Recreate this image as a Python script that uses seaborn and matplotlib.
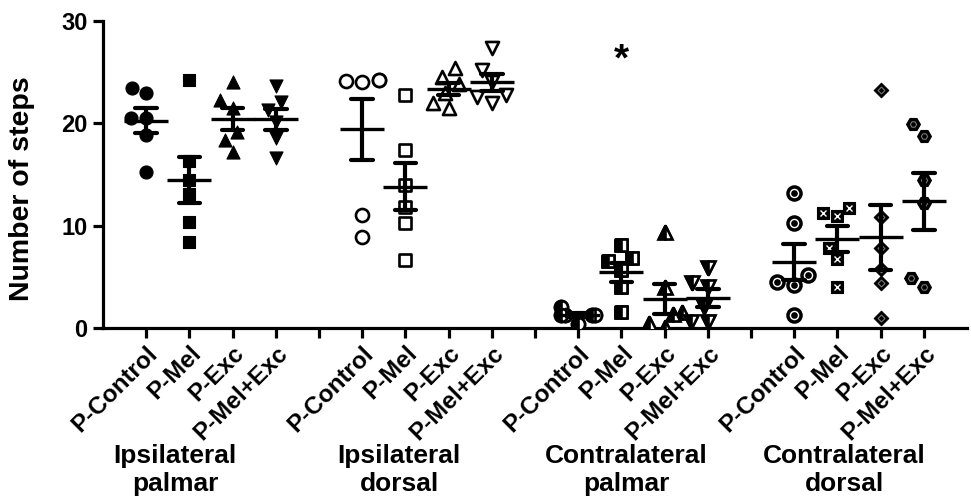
import numpy as np
import pandas as pd
import matplotlib
matplotlib.use("Agg")
import matplotlib.pyplot as plt
import matplotlib.transforms as mtrans
import seaborn as sns

# ---------------- data ----------------
treatments = ["P-Control", "P-Mel", "P-Exc", "P-Mel+Exc"]
regions = ["Ipsilateral\npalmar", "Ipsilateral\ndorsal",
           "Contralateral\npalmar", "Contralateral\ndorsal"]

ipsi_palmar_control = [23.0, 23.5, 20.5, 20.5, 18.9, 15.2]
ipsi_palmar_mel = [24.2, 16.3, 14.5, 13.1, 10.4, 8.4]
ipsi_palmar_exc = [24.0, 22.3, 21.5, 19.2, 18.4, 17.2]
ipsi_palmar_melexc = [23.6, 22.1, 21.3, 20.1, 18.6, 16.6]

ipsi_dorsal_control = [24.2, 24.0, 24.2, 24.1, 11.0, 8.9]
ipsi_dorsal_mel = [22.8, 17.4, 14.0, 11.8, 10.3, 6.6]
ipsi_dorsal_exc = [25.4, 24.5, 23.8, 23.0, 22.0, 21.5]
ipsi_dorsal_melexc = [27.4, 25.2, 24.0, 22.8, 22.6, 22.0]

contra_palmar_control = [2.1, 1.3, 1.3, 1.3, 1.3, 0.4]
contra_palmar_mel = [8.1, 6.8, 6.5, 5.7, 4.0, 1.6]
contra_palmar_exc = [9.4, 4.0, 1.6, 1.4, 0.5, 0.1]
contra_palmar_melexc = [5.9, 4.4, 4.0, 2.1, 0.6, 0.6]

contra_dorsal_control = [13.2, 10.3, 5.2, 4.5, 4.2, 1.3]
contra_dorsal_mel = [11.7, 11.2, 10.9, 7.8, 6.7, 4.0]
contra_dorsal_exc = [23.3, 10.8, 7.8, 5.8, 4.4, 1.0]
contra_dorsal_melexc = [19.9, 18.8, 14.5, 12.2, 4.9, 4.0]

all_values = [
    [ipsi_palmar_control, ipsi_palmar_mel, ipsi_palmar_exc, ipsi_palmar_melexc],
    [ipsi_dorsal_control, ipsi_dorsal_mel, ipsi_dorsal_exc, ipsi_dorsal_melexc],
    [contra_palmar_control, contra_palmar_mel, contra_palmar_exc, contra_palmar_melexc],
    [contra_dorsal_control, contra_dorsal_mel, contra_dorsal_exc, contra_dorsal_melexc],
]

y_label = "Number of steps"
y_ticks = [0, 10, 20, 30]
significance_mark = "*"
significance_group = (2, 1)      # Contralateral palmar, P-Mel
significance_y = 26.9

# ---------------- layout / style ----------------
group_label_x = [0.67, 5.86, 11.11, 16.16]

sns.set_style("ticks")
plt.rcParams["font.family"] = ["Liberation Sans", "DejaVu Sans"]
plt.rcParams["font.weight"] = "bold"
for k in ["text.color", "axes.labelcolor", "xtick.color", "ytick.color", "axes.edgecolor"]:
    plt.rcParams[k] = "black"

order = []
tick_labels = []
rows = []
for gi, reg in enumerate(regions):
    for ti, tr in enumerate(treatments):
        key = f"{gi}|{tr}"
        order.append(key)
        tick_labels.append(tr)
        for v in all_values[gi][ti]:
            rows.append({"key": key, "value": v})
    if gi < len(regions) - 1:
        order.append(f"gap{gi}")
        tick_labels.append("")
df = pd.DataFrame(rows)

fig, ax = plt.subplots(figsize=(9.71, 4.97), dpi=100)
fig.subplots_adjust(left=103 / 971, right=967 / 971, bottom=169 / 497, top=1 - 21 / 497)

SZ = 9.4
base_markers = ["o", "s", "^", "v"]
collections = {}
for gi in range(4):
    for ti in range(4):
        key = f"{gi}|{treatments[ti]}"
        sub = df[df["key"] == key]
        m = base_markers[ti]
        fc, lw, sz = "k", 0.8, SZ
        if ti == 1:
            sz = 9.0
        if gi in (1, 2):
            fc, lw = "white", 1.9
        elif gi == 3:
            if ti == 0:
                fc, lw = "white", 2.5
            elif ti == 1:
                fc, lw, sz = "k", 0.8, 9.0
            elif ti == 2:
                m, fc, lw, sz = "D", "k", 0.8, 7.4
            else:
                m, fc, lw, sz = "H", "k", 0.8, 10.0
        n0 = len(ax.collections)
        sns.swarmplot(data=sub, x="key", y="value", order=order, marker=m,
                      color=fc, edgecolor="k", linewidth=lw, size=sz, ax=ax,
                      zorder=3)
        new = [c for c in ax.collections[n0:] if len(c.get_offsets()) > 0]
        collections[(gi, ti)] = (new[0], m, sz, lw)

sns.pointplot(data=df, x="key", y="value", order=order, errorbar="se",
              capsize=0.5, linestyle="none", marker="_", markersize=31,
              markeredgewidth=2.4, color="k",
              err_kws={"linewidth": 3.0, "zorder": 6}, zorder=7, ax=ax)

ax.set_xlim(-1, len(order))
ax.set_ylim(0, 30)
ax.set_yticks(y_ticks)
ax.set_yticklabels([str(t) for t in y_ticks], fontsize=17, fontweight="bold")
ax.set_xticks(range(len(order)))
ax.set_xticklabels(tick_labels, rotation=45, ha="right", va="top",
                   rotation_mode="anchor", fontsize=17.5, fontweight="bold")
ax.set_xlabel("")
ax.set_ylabel(y_label, fontsize=20.5, fontweight="bold")
ax.yaxis.set_label_coords(-0.079, 0.455)
sns.despine(ax=ax)
for s in ["left", "bottom"]:
    ax.spines[s].set_linewidth(2.3)
ax.tick_params(axis="both", width=2.3, length=7, color="k", pad=4)
ax.tick_params(axis="x", pad=3)

# significance asterisk
sig_pos = order.index(f"{significance_group[0]}|{treatments[significance_group[1]]}")
ax.text(sig_pos, significance_y, significance_mark, ha="center", va="center",
        fontsize=28, fontweight="bold",
        transform=mtrans.offset_copy(ax.transData, fig=fig, y=-8, units="dots"))

# group labels
btrans = mtrans.blended_transform_factory(ax.transData, fig.transFigure)
for gi, reg in enumerate(regions):
    ax.text(group_label_x[gi], 1 - 444 / 497, reg, transform=btrans,
            ha="center", va="top", fontsize=19, fontweight="bold", linespacing=1.2)

# compute swarm positions, then add marker decorations
fig.canvas.draw()
for (gi, ti), (coll, m, sz, lw) in collections.items():
    off = np.asarray(coll.get_offsets())
    xs, ys = off[:, 0], off[:, 1]
    if gi == 2:
        ax.plot(xs, ys, ls="none", marker=m, ms=sz, fillstyle="left",
                mfc="k", markerfacecoloralt="white", mec="k", mew=lw, zorder=4)
    elif gi == 3:
        if ti == 0:
            ax.plot(xs, ys, ls="none", marker="o", ms=3.8, mfc="k", mec="k", zorder=4)
        elif ti == 1:
            ax.plot(xs, ys, ls="none", marker="x", ms=4.5, mec="white", mew=1.0, zorder=4)
        elif ti == 2:
            ax.plot(xs, ys, ls="none", marker="D", ms=3.5, mfc="k", mec="#777777", mew=0.8, zorder=4)
        else:
            ax.plot(xs, ys, ls="none", marker="H", ms=4.5, mfc="k", mec="#777777", mew=0.8, zorder=4)

fig.savefig("out.png", dpi=100)
